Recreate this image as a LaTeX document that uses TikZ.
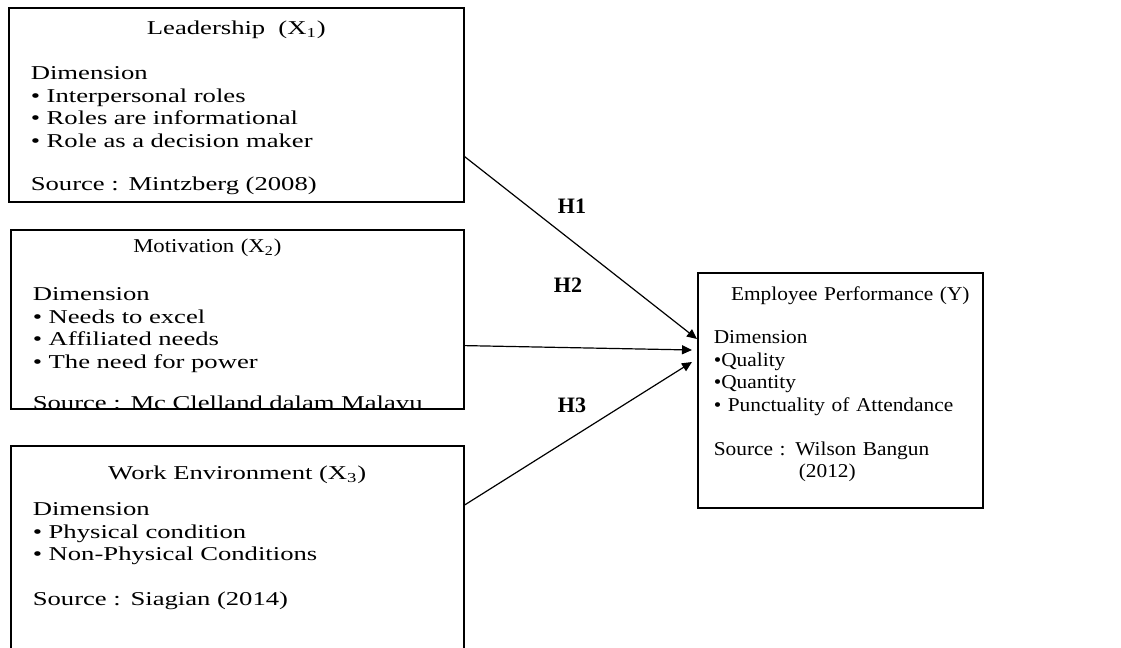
\documentclass[tikz,border=0pt]{standalone}
\usepackage{fontspec}
\setmainfont{Liberation Serif}[FakeStretch=1.36]
\newfontfamily\perffont{Liberation Serif}[FakeStretch=1.09]
\newfontfamily\motivfont{Liberation Serif}[FakeStretch=1.16]
\newfontfamily\hypfont{Liberation Serif}
\usetikzlibrary{arrows.meta}
\newcommand{\boxtitle}[1]{\makebox[\hsize]{#1}}

\begin{document}
\begin{tikzpicture}[x=0.5pt, y=-0.5pt,
		varbox/.style={draw, line width=0.8pt, anchor=north west, align=left, inner ysep=0pt,
			font=\fontsize{9.8}{11.25}\selectfont},
		link/.style={line width=0.6pt, -{Triangle[length=5pt,width=4.5pt]}},
		hyp/.style={font=\hypfont\bfseries\fontsize{11}{13}\selectfont}]
		\useasboundingbox (0,0) rectangle (1121,648);
		% Independent variables
		\node [varbox, inner xsep=11pt, text width=205.5pt, text height=13.5pt, text depth=83.5pt] (lead) at (8,7)
			{\boxtitle{Leadership\ \ (X\textsubscript{1})}\\[11.25pt]
			 Dimension\\
			 \textbullet\ Interpersonal roles\\
			 \textbullet\ Roles are informational\\
			 \textbullet\ Role as a decision maker\\[10.25pt]
			 Source : Mintzberg (2008)};
		\node [varbox, inner xsep=11pt, text width=204.5pt, text height=11.5pt, text depth=78pt] (motiv) at (10,229)
			{\boxtitle{{\motivfont Motivation (X\textsubscript{2})}\hspace{30pt}}\\[12.75pt]
			 Dimension\\
			 \textbullet\ Needs to excel\\
			 \textbullet\ Affiliated needs\\
			 \textbullet\ The need for power\\[9.25pt]
			 Source : Mc Clelland dalam Malavu};
		\node [varbox, inner xsep=11pt, text width=204.5pt, text height=17pt, text depth=88pt] (work) at (10,445)
			{\boxtitle{Work Environment (X\textsubscript{3})}\\[6.75pt]
			 Dimension\\
			 \textbullet\ Physical condition\\
			 \textbullet\ Non-Physical Conditions\\[11.25pt]
			 Source : Siagian (2014)};
		% Dependent variable
		\node [varbox, font=\perffont\fontsize{9.8}{11.25}\selectfont, inner xsep=8pt, text width=126.5pt,
			text height=14pt, text depth=103.5pt] (perf) at (697,272)
			{\boxtitle{\hspace{10pt}Employee Performance (Y)}\\[10.25pt]
			 Dimension\\
			 \textbullet Quality\\
			 \textbullet Quantity\\
			 \textbullet\ Punctuality of Attendance\\[10.75pt]
			 Source : Wilson Bangun\\
			 \hspace*{42.5pt}(2012)};
		% Hypotheses
		\draw [link] ([yshift=23pt]lead.south east) -- ([yshift=-33.5pt]perf.north west);
		\draw [link] ([yshift=32pt]motiv.south east) -- ([xshift=-2.5pt,yshift=-39pt]perf.north west);
		\draw [link] ([yshift=-30pt]work.north east) -- ([xshift=-2.5pt,yshift=-45pt]perf.north west);
		\node [hyp] (h1) at (572,206) {H1};
		\node [hyp] (h2) at (568,285) {H2};
		\node [hyp] (h3) at (572,405) {H3};
	\end{tikzpicture}
\end{document}
